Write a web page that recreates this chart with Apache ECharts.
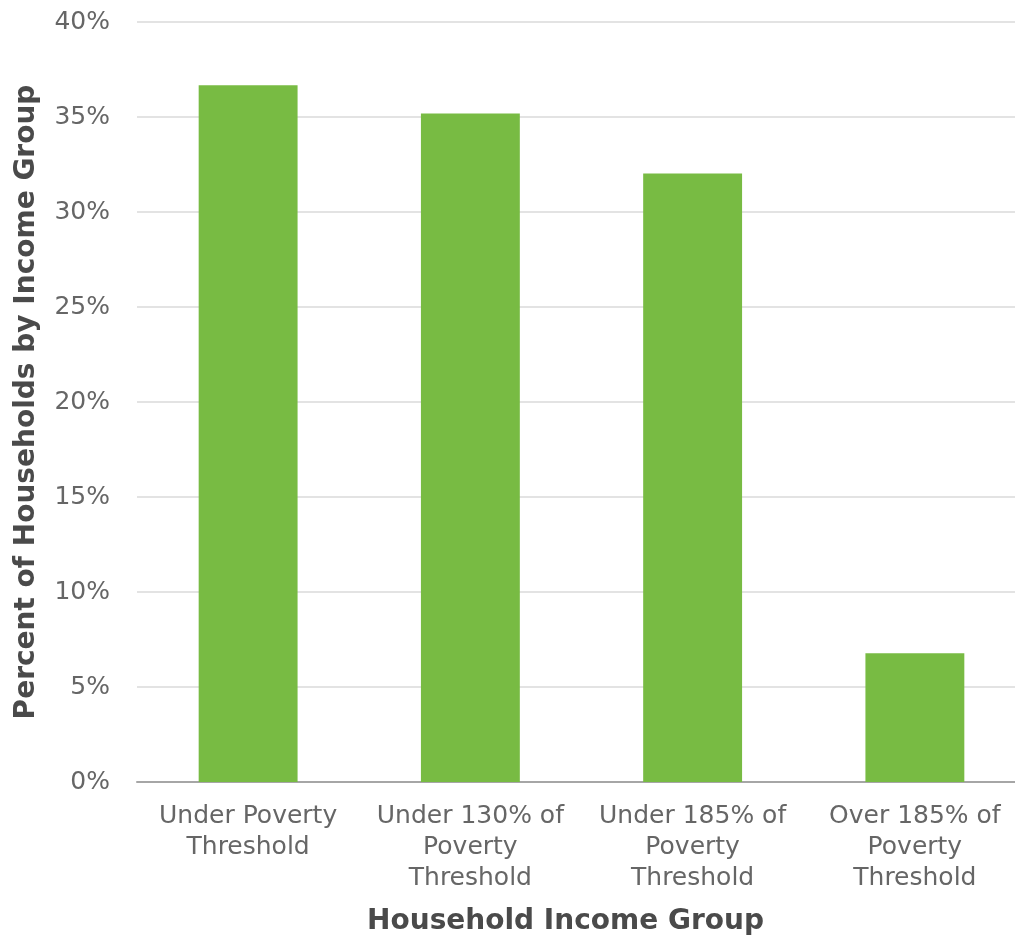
<!DOCTYPE html>
<html>
<head>
<meta charset="utf-8">
<script src="https://cdn.jsdelivr.net/npm/echarts@6/dist/echarts.min.js"></script>
<style>
html,body{margin:0;padding:0;background:#fff;}
#chart{width:1015px;height:936px;}
</style>
</head>
<body>
<div id="chart"></div>
<script>
const categories = [
  "Under Poverty\nThreshold",
  "Under 130% of\nPoverty\nThreshold",
  "Under 185% of\nPoverty\nThreshold",
  "Over 185% of\nPoverty\nThreshold"
];
const values = [36.67, 35.18, 32.03, 6.78];
const xTitle = "Household Income Group";
const yTitle = "Percent of Households by Income Group";

const chart = echarts.init(document.getElementById('chart'), null, {renderer: 'canvas'});
chart.setOption({
  animation: false,
  backgroundColor: '#ffffff',
  grid: {left: 137, top: 22, right: -11, bottom: 154, containLabel: false, outerBoundsMode: 'none'},
  xAxis: {
    type: 'category',
    data: categories,
    name: xTitle,
    nameLocation: 'middle',
    nameGap: 126,
    nameTextStyle: {fontFamily: 'DejaVu Sans', fontSize: 28, fontWeight: 'bold', color: '#4a4a4a', padding: [0, 32, 0, 0]},
    axisLine: {lineStyle: {color: '#a6a6a6', width: 2}},
    axisTick: {show: false},
    axisLabel: {interval: 0, margin: 19, fontFamily: 'DejaVu Sans', fontSize: 25, lineHeight: 31, color: '#666666'}
  },
  yAxis: {
    type: 'value',
    min: 0, max: 40, interval: 5,
    name: yTitle,
    nameLocation: 'middle',
    nameGap: 96,
    nameRotate: 90,
    nameTextStyle: {fontFamily: 'DejaVu Sans', fontSize: 28, fontWeight: 'bold', color: '#4a4a4a'},
    axisLine: {show: false},
    axisTick: {show: false},
    splitLine: {lineStyle: {color: '#e3e3e3', width: 2}},
    axisLabel: {margin: 27, fontFamily: 'DejaVu Sans', fontSize: 25, color: '#666666', formatter: '{value}%'}
  },
  series: [{
    type: 'bar',
    data: values,
    barWidth: '44.5%',
    itemStyle: {color: '#78bb43'}
  }]
});
</script>
</body>
</html>
